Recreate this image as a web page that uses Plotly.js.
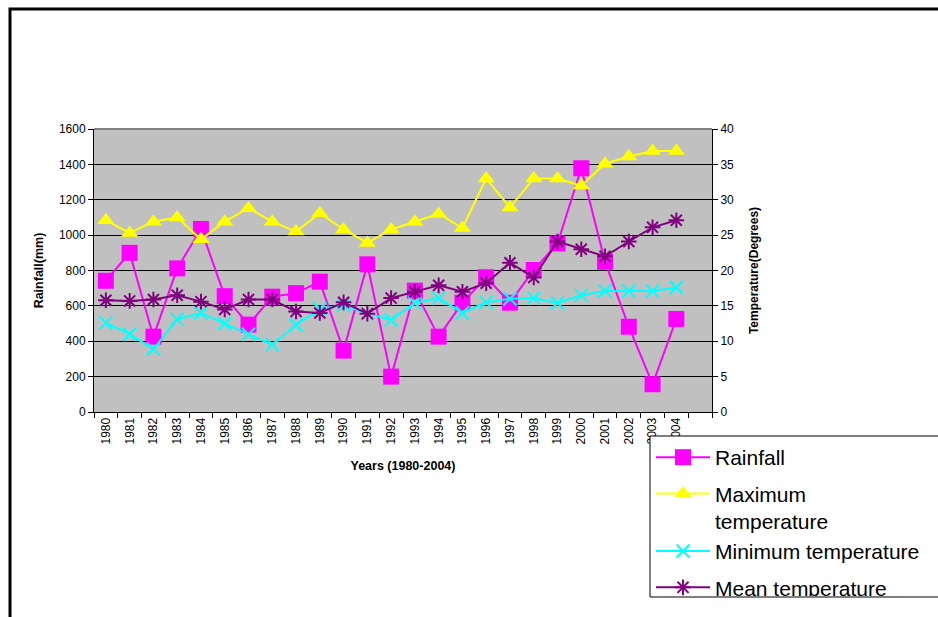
<!DOCTYPE html>
<html>
<head>
<meta charset="utf-8">
<script src="https://cdn.plot.ly/plotly-3.0.1.min.js"></script>
<style>
  html, body { margin: 0; padding: 0; background: #ffffff; }
  #chart { width: 938px; height: 617px; }
</style>
</head>
<body>
<div id="chart"></div>
<script>
// ---- Data ----
const years = ['1980','1981','1982','1983','1984','1985','1986','1987','1988','1989',
               '1990','1991','1992','1993','1994','1995','1996','1997','1998','1999',
               '2000','2001','2002','2003','2004'];
const spareCategory = ' ';
const rainfall = [742, 900, 426, 812, 1035, 655, 494, 652, 672, 737,
                  347, 835, 200, 686, 426, 618, 762, 618, 803, 953,
                  1378, 849, 482, 157, 526];
const maxTemp = [27.1, 25.3, 26.9, 27.5, 24.4, 26.9, 28.8, 26.9, 25.5, 28.1,
                 25.8, 23.9, 25.8, 26.9, 28.0, 26.0, 33.0, 28.9, 33.0, 33.0,
                 32.0, 35.1, 36.1, 36.9, 36.9];
const minTemp = [12.6, 11.0, 8.9, 13.1, 14.0, 12.5, 11.0, 9.5, 12.3, 14.6,
                 15.1, 13.9, 13.0, 15.4, 16.1, 14.0, 15.5, 16.0, 16.1, 15.4,
                 16.5, 17.1, 17.1, 17.1, 17.6];
const meanTemp = [15.8, 15.7, 15.9, 16.5, 15.6, 14.5, 15.9, 15.9, 14.2, 14.0,
                  15.5, 13.9, 16.1, 17.0, 17.9, 17.0, 18.2, 21.1, 19.0, 24.1,
                  23.0, 22.0, 24.1, 26.1, 27.1];
const seriesNames = ['Rainfall', 'Maximum<br>temperature', 'Minimum temperature', 'Mean temperature'];
const xTitle = 'Years (1980-2004)';
const yTitle = 'Rainfall(mm)';
const y2Title = 'Temperature(Degrees)';

// ---- Layout geometry (pixels) ----
const FONT = 'Liberation Sans, Arial, sans-serif';
const PL = 94, PR = 712, PT = 129, PB = 412;
const fx = p => (p - PL) / (PR - PL);
const fy = p => (PB - p) / (PB - PT);

const traces = [
  {
    x: years, y: rainfall, name: seriesNames[0], type: 'scatter', mode: 'lines+markers',
    line: {color: '#FF00FF', width: 2},
    marker: {symbol: 'square', size: 16, color: '#FF00FF'},
    legendgroup: 'g1'
  },
  {
    x: years, y: maxTemp, name: seriesNames[1], type: 'scatter', mode: 'lines+markers', yaxis: 'y2',
    line: {color: '#FFFF00', width: 2},
    marker: {symbol: 'triangle-up', size: 15, color: '#FFFF00'},
    legendgroup: 'g2'
  },
  {
    x: years, y: minTemp, name: seriesNames[2], type: 'scatter', mode: 'lines+markers', yaxis: 'y2',
    line: {color: '#00FFFF', width: 2},
    marker: {symbol: 'x-thin', size: 13, color: '#00FFFF', line: {color: '#00FFFF', width: 2}},
    legendgroup: 'g2'
  },
  {
    x: years, y: meanTemp, name: seriesNames[3], type: 'scatter', mode: 'lines+markers', yaxis: 'y2',
    line: {color: '#800080', width: 2},
    marker: {symbol: 'asterisk', size: 13, color: '#800080', line: {color: '#800080', width: 2}},
    legendgroup: 'g3'
  }
];

const layout = {
  width: 938, height: 617,
  margin: {l: PL, r: 938 - PR, t: PT, b: 617 - PB, autoexpand: false},
  paper_bgcolor: '#ffffff',
  plot_bgcolor: '#C0C0C0',
  font: {family: FONT, size: 12, color: '#000000'},
  showlegend: true,
  xaxis: {
    type: 'category', categoryorder: 'array', categoryarray: years.concat([spareCategory]),
    range: [-0.5, 25.5], tickson: 'boundaries',
    ticks: 'outside', ticklen: 5, tickcolor: '#000', tickwidth: 1,
    showline: true, linecolor: '#000', linewidth: 1, showgrid: false, zeroline: false,
    tickangle: -90, tickfont: {family: FONT, size: 12, color: '#000'},
    title: {text: xTitle, font: {family: FONT, size: 12.5, weight: 'bold', color: '#000'}, standoff: 17},
    fixedrange: true
  },
  yaxis: {
    range: [0, 1600], tick0: 0, dtick: 200,
    ticks: 'outside', ticklen: 5, tickcolor: '#000', tickwidth: 1,
    showline: true, linecolor: '#000', linewidth: 1,
    showgrid: true, gridcolor: '#000', gridwidth: 1, zeroline: false,
    tickfont: {family: FONT, size: 12, color: '#000'},
    title: {text: yTitle, font: {family: FONT, size: 12.5, weight: 'bold', color: '#000'}, standoff: 12},
    fixedrange: true
  },
  yaxis2: {
    overlaying: 'y', side: 'right', range: [0, 40], tick0: 0, dtick: 5,
    ticks: 'outside', ticklen: 5, tickcolor: '#000', tickwidth: 1,
    showline: true, linecolor: '#000', linewidth: 1, showgrid: false, zeroline: false,
    tickfont: {family: FONT, size: 12, color: '#000'},
    title: {text: y2Title, font: {family: FONT, size: 12, weight: 'bold', color: '#000'}, standoff: 16},
    fixedrange: true
  },
  legend: {
    x: fx(651), xanchor: 'left', y: fy(437), yanchor: 'top',
    bgcolor: '#ffffff', borderwidth: 0,
    font: {family: FONT, size: 21, color: '#000'},
    itemwidth: 54, valign: 'top',
    traceorder: 'grouped', tracegroupgap: 6,
    maxheight: 159
  },
  shapes: [
    // outer frame of the figure
    {type: 'rect', xref: 'paper', yref: 'paper', x0: fx(10), x1: fx(980), y0: fy(9), y1: fy(660),
     line: {color: '#000', width: 3}, fillcolor: 'rgba(0,0,0,0)', layer: 'below'},
    // plot-area top border
    {type: 'line', xref: 'paper', yref: 'paper', x0: 0, x1: 1, y0: 1, y1: 1,
     line: {color: '#808080', width: 2}, layer: 'above'},
    // legend box
    {type: 'rect', xref: 'paper', yref: 'paper', x0: fx(650), x1: fx(990), y0: fy(436), y1: fy(597),
     line: {color: '#000', width: 1}, fillcolor: '#ffffff', layer: 'above'}
  ]
};

Plotly.newPlot('chart', traces, layout, {displayModeBar: false, staticPlot: true});
</script>
</body>
</html>
